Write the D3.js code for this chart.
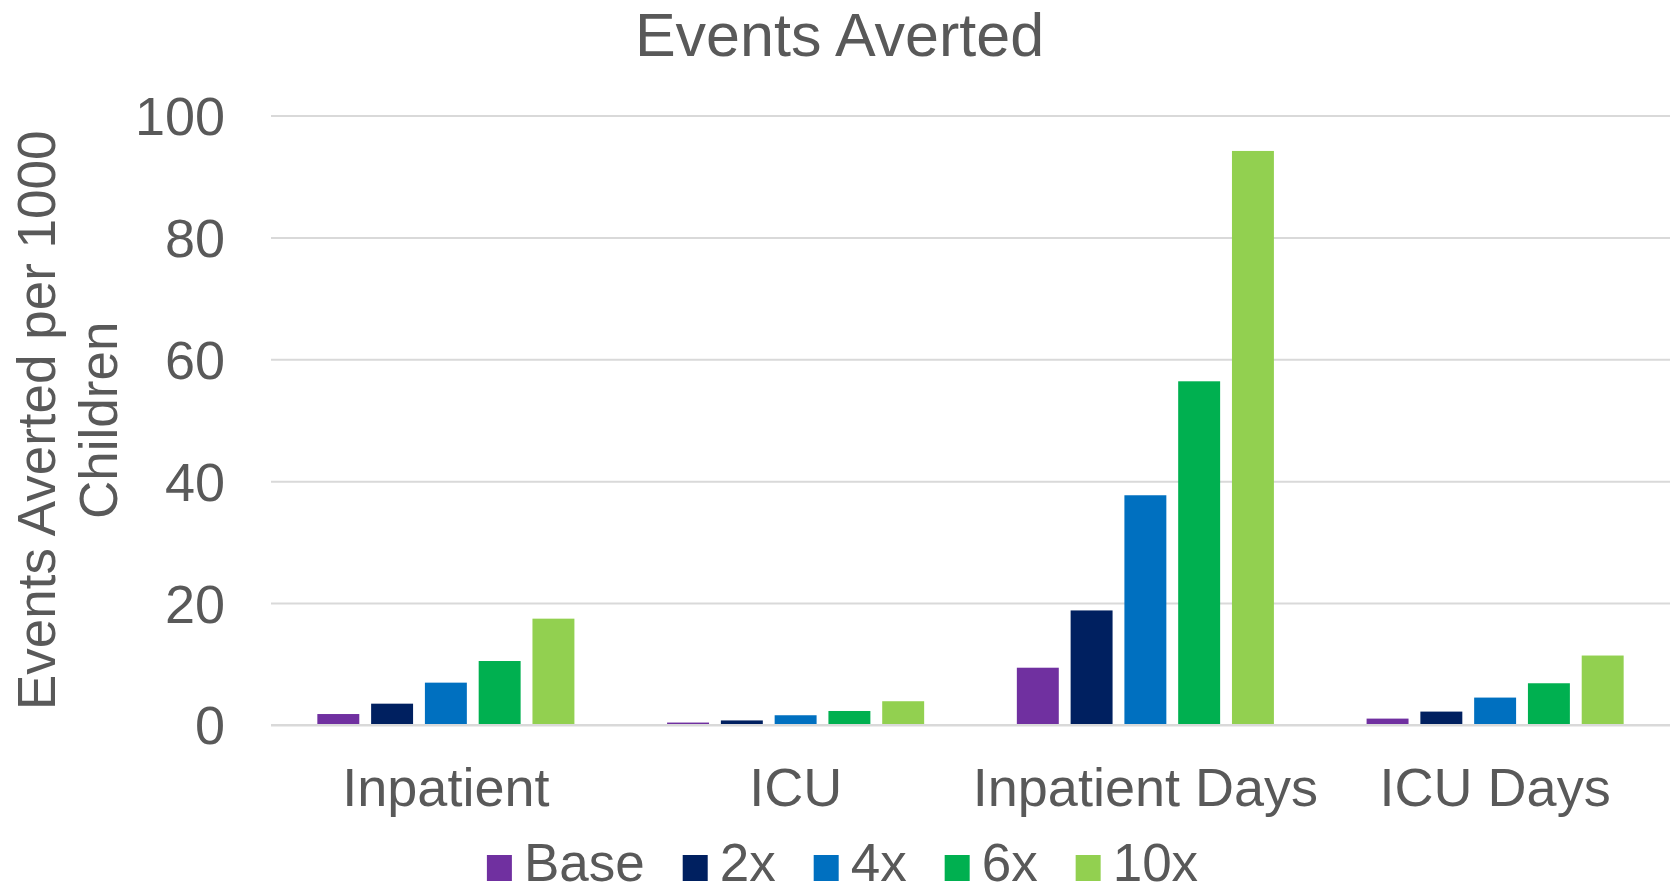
<!DOCTYPE html>
<html>
<head>
<meta charset="utf-8">
<script src="https://cdn.jsdelivr.net/npm/d3@7"></script>
<style>
  html, body { margin: 0; padding: 0; background: #fff; }
  svg { display: block; font-family: "Liberation Sans", Arial, sans-serif; }
</style>
</head>
<body>
<svg id="chart" width="1679" height="893"></svg>
<script>
// ---- Data ----
const categories = ["Inpatient", "ICU", "Inpatient Days", "ICU Days"];
const seriesNames = ["Base", "2x", "4x", "6x", "10x"];
const seriesColors = ["#7030A0", "#002060", "#0070C0", "#00B050", "#92D050"];
const baseValues = [1.8, 0.4, 9.4, 1.05];
const x2Values = [3.5, 0.75, 18.8, 2.2];
const x4Values = [6.95, 1.6, 37.7, 4.5];
const x6Values = [10.5, 2.3, 56.4, 6.85];
const x10Values = [17.45, 3.9, 94.2, 11.4];
const yTicks = [0, 20, 40, 60, 80, 100];
const titleText = "Events Averted";
const yTitleLines = ["Events Averted per 1000", "Children"];

const seriesValues = [baseValues, x2Values, x4Values, x6Values, x10Values];

// ---- Layout ----
const W = 1679, H = 893;
const plotLeft = 271, plotRight = 1670, plotTop = 115.6, plotBottom = 725;
const textColor = "#595959";
const svg = d3.select("#chart");

const x0 = d3.scaleBand().domain(categories).range([plotLeft, plotRight])
  .paddingInner(0.265).paddingOuter(0.1325);
const x1 = d3.scaleBand().domain(seriesNames).range([0, x0.bandwidth()])
  .paddingInner(0.22).paddingOuter(0);
const y = d3.scaleLinear().domain([0, 100]).range([plotBottom, plotTop]);

// Gridlines + y tick labels
const yAxis = d3.axisLeft(y).tickValues(yTicks)
  .tickSize(-(plotRight - plotLeft)).tickPadding(46);
const gy = svg.append("g").attr("transform", `translate(${plotLeft},0)`).call(yAxis);
gy.select(".domain").remove();
gy.selectAll(".tick line").attr("stroke", "#D9D9D9").attr("stroke-width", 2);
gy.selectAll(".tick text").attr("fill", textColor)
  .style("font-size", "54px").attr("dy", "0.35em");

// Bars
const groups = svg.append("g").selectAll("g").data(categories).join("g")
  .attr("transform", d => `translate(${x0(d)},0)`);
groups.selectAll("rect")
  .data((c, ci) => seriesNames.map((s, si) => ({ s, si, v: seriesValues[si][ci] })))
  .join("rect")
  .attr("x", d => x1(d.s))
  .attr("width", x1.bandwidth())
  .attr("y", d => y(d.v))
  .attr("height", d => y(0) - y(d.v))
  .attr("fill", d => seriesColors[d.si]);

// Baseline redraw on top (thin gray)
svg.append("line").attr("x1", plotLeft).attr("x2", plotRight)
  .attr("y1", y(0)).attr("y2", y(0)).attr("stroke", "#D9D9D9").attr("stroke-width", 2);

// Category axis
const xAxis = d3.axisBottom(x0).tickSize(0).tickPadding(0);
const gx = svg.append("g").attr("transform", `translate(0,${plotBottom})`).call(xAxis);
gx.select(".domain").remove();
gx.selectAll(".tick text").attr("fill", textColor)
  .style("font-size", "54px").attr("y", 81).attr("dy", 0);

// Title
svg.append("text").attr("x", W / 2).attr("y", 56)
  .attr("text-anchor", "middle").attr("fill", textColor)
  .style("font-size", "61px").text(titleText);

// Y axis title (two lines, rotated)
const yc = (plotTop + plotBottom) / 2;
const yt = svg.append("text").attr("transform", `translate(0,${yc}) rotate(-90)`)
  .attr("text-anchor", "middle").attr("fill", textColor).style("font-size", "53px");
yt.append("tspan").attr("x", 0).attr("y", 55).text(yTitleLines[0]);
yt.append("tspan").attr("x", 0).attr("y", 117).text(yTitleLines[1]);

// Legend
const legend = svg.append("g");
const sw = 25, gapSwText = 12, gapItem = 38;
let cx = 0;
seriesNames.forEach((name, i) => {
  const g = legend.append("g").attr("transform", `translate(${cx},0)`);
  g.append("rect").attr("x", 0).attr("y", 855).attr("width", sw).attr("height", 26)
    .attr("fill", seriesColors[i]);
  const t = g.append("text").attr("x", sw + gapSwText).attr("y", 881)
    .attr("fill", textColor).style("font-size", "53px").text(name);
  const tw = t.node().getComputedTextLength();
  cx += sw + gapSwText + tw + gapItem;
});
const legendWidth = cx - gapItem;
legend.attr("transform", `translate(${W / 2 - legendWidth / 2 + 3},0)`);
</script>
</body>
</html>
